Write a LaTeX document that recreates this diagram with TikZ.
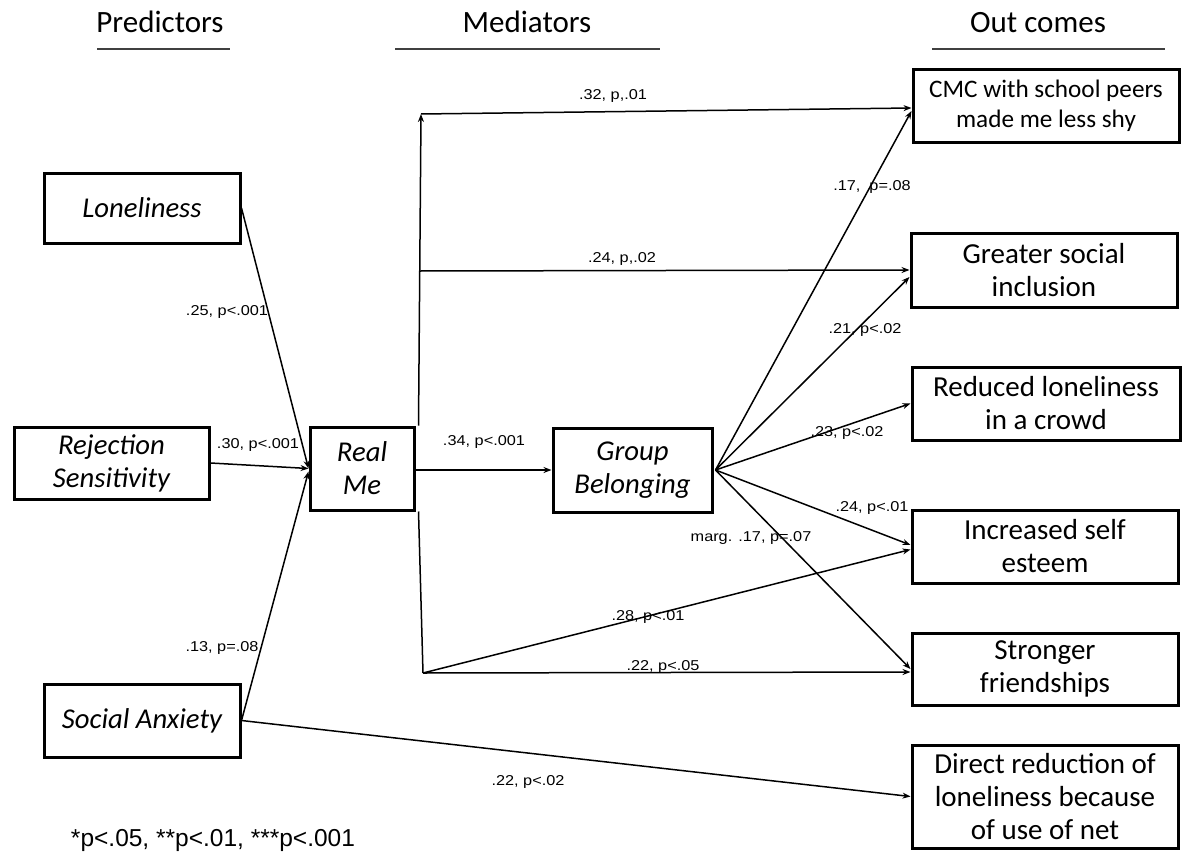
\documentclass[tikz,border=0pt]{standalone}
\usepackage{fontspec}
\setmainfont{Carlito}
\newfontfamily\lab[FakeStretch=1.14]{Liberation Sans}
\newfontfamily\footfont{Liberation Sans}
\usetikzlibrary{arrows.meta,calc}
\begin{document}
\begin{tikzpicture}[x=1pt,y=-1pt,
  box/.style={draw, line width=3pt, inner sep=0pt, align=center,
    font=\fontsize{29}{33}\selectfont},
  ibox/.style={box, font=\fontsize{28.7}{33}\selectfont\itshape},
  conn/.style={line width=1.5pt, -{Stealth[length=8pt,width=6pt]}},
  plain/.style={line width=1.5pt},
  lbl/.style={font=\lab\fontsize{14.3}{16}\selectfont, inner sep=0pt},
  hdr/.style={font=\fontsize{31}{36}\selectfont, inner sep=0pt, anchor=base},
  rule/.style={line width=2.3pt, black!75}]
\useasboundingbox (0,0) rectangle (1185,856);

% headers
\node[hdr] (hp) at (160,33) {Predictors};
\node[hdr] (hm) at (527,33) {Mediators};
\node[hdr] (ho) at (1038,33) {Out comes};
\draw[rule] (97,49) -- (230,49);
\draw[rule] (395,49) -- (660,49);
\draw[rule] (932,49) -- (1165,49);

% predictors
\node[ibox, minimum width=196, minimum height=70] (lon) at (142,208) {Loneliness};
\node[ibox, minimum width=195, minimum height=72] (rej) at (111.5,463) {Rejection\\Sensitivity};
\node[ibox, minimum width=196, minimum height=73] (sa) at (142,720.5) {Social Anxiety};

% mediators
\node[ibox, minimum width=104, minimum height=83] (rm) at (362,468.5) {Real\\Me};
\node[ibox, minimum width=159, minimum height=84] (gb) at (632.5,470) {Group\\Belonging};

% outcomes
\node[box, minimum width=266, minimum height=72, font=\fontsize{25.2}{30}\selectfont] (cmc) at (1046,106) {CMC with school peers\\made me less shy};
\node[box, minimum width=266, minimum height=74] (gsi) at (1044,270) {Greater social\\inclusion};
\node[box, minimum width=268, minimum height=73] (rl) at (1046,403.5) {Reduced loneliness\\in a crowd};
\node[box, minimum width=266, minimum height=73] (ise) at (1045,546.5) {Increased self\\esteem};
\node[box, minimum width=266, minimum height=72] (sf) at (1045,669) {Stronger\\friendships};
\node[box, minimum width=266, minimum height=103] (dr) at (1045,796.5) {Direct reduction of\\loneliness because\\of use of net};

% predictor connectors
\draw[conn] (lon.east) -- (rm.west);
\draw[conn] (rej.east) -- (rm.west);
\draw[conn] (sa.east) -- ([yshift=-3pt]rm.west);
\draw[conn] (sa.east) -- (dr.west);

% Real Me branches
\coordinate (t1) at (421,114);
\coordinate (t2) at (420,271);
\coordinate (b1) at (423,673);
\draw[conn] ([xshift=3pt]rm.north east) -- (t1);
\draw[conn] (t1) -- ([yshift=-2pt]cmc.west);
\draw[conn] (t2) -- (gsi.west);
\draw[conn] (rm.east |- gb.west) -- (gb.west);
\draw[plain] ([xshift=3pt]rm.south east) -- (b1);
\draw[conn] (b1) -- ([yshift=-3pt]sf.west);
\draw[conn] (b1) -- ([yshift=-3pt]ise.west);

% Group Belonging fan
\draw[conn] ([xshift=2pt]gb.east) -- ([yshift=-5pt]cmc.west);
\draw[conn] ([xshift=2pt]gb.east) -- ([yshift=-7pt]gsi.west);
\draw[conn] ([xshift=2pt]gb.east) -- (rl.west);
\draw[conn] ([xshift=2pt]gb.east) -- ([yshift=1.5pt]ise.west);
\draw[conn] ([xshift=2pt]gb.east) -- (sf.west);

% labels
\node[lbl] (l1) at (613,96) {.32, p,.01};
\node[lbl] (l2) at (872,187) {.17,\hspace{9pt}p=.08};
\node[lbl] (l3) at (622,259) {.24, p,.02};
\node[lbl] (l4) at (865,330) {.21, p<.02};
\node[lbl] (l5) at (847,433) {.23, p<.02};
\node[lbl] (l6) at (872,508) {.24, p<.01};
\node[lbl] (l7) at (751,538) {marg. .17, p=.07};
\node[lbl] (l8) at (648,617) {.28, p<.01};
\node[lbl] (l9) at (663,667) {.22, p<.05};
\node[lbl] (l10) at (484,442) {.34, p<.001};
\node[lbl] (l11) at (227,312) {.25, p<.001};
\node[lbl] (l12) at (258,445) {.30, p<.001};
\node[lbl] (l13) at (222,648) {.13, p=.08};
\node[lbl] (l14) at (528,782) {.22, p<.02};

\node[font=\footfont\fontsize{24.5}{28}\selectfont, inner sep=0pt] (fn) at (213,840) {*p<.05, **p<.01, ***p<.001};
\end{tikzpicture}
\end{document}
